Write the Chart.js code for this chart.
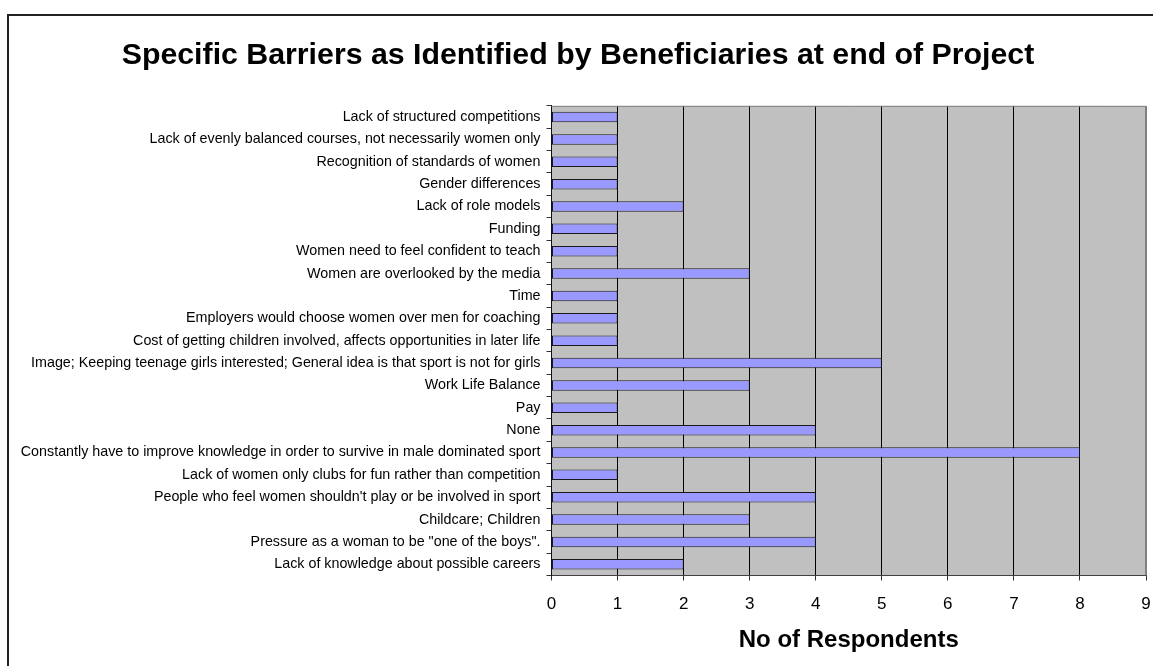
<!DOCTYPE html>
<html>
<head>
<meta charset="utf-8">
<script src="https://cdn.jsdelivr.net/npm/chart.js@4/dist/chart.umd.min.js"></script>
<style>
  html, body { margin: 0; padding: 0; background: #ffffff; }
  #wrap { width: 1153px; height: 666px; position: relative; }
</style>
</head>
<body>
<div id="wrap"><canvas id="c" width="1153" height="666"></canvas></div>
<script>
// Barriers, listed top to bottom as they appear on the chart
const barriers = [
  "Lack of structured competitions",
  "Lack of evenly balanced courses, not necessarily women only",
  "Recognition of standards of women",
  "Gender differences",
  "Lack of role models",
  "Funding",
  "Women need to feel confident to teach",
  "Women are overlooked by the media",
  "Time",
  "Employers would choose women over men for coaching",
  "Cost of getting children involved, affects opportunities in later life",
  "Image; Keeping teenage girls interested; General idea is that sport is not for girls",
  "Work Life Balance",
  "Pay",
  "None",
  "Constantly have to improve knowledge in order to survive in male dominated sport",
  "Lack of women only clubs for fun rather than competition",
  "People who feel women shouldn't play or be involved in sport",
  "Childcare; Children",
  "Pressure as a woman to be \"one of the boys\".",
  "Lack of knowledge about possible careers"
];

// Number of respondents naming each barrier
const respondents = [1, 1, 1, 1, 2, 1, 1, 3, 1, 1, 1, 5, 3, 1, 4, 8, 1, 4, 3, 4, 2];

// Value axis range and tick labels
const xTicks = [0, 1, 2, 3, 4, 5, 6, 7, 8, 9];

const chartTitle = "Specific Barriers as Identified by Beneficiaries at end of Project";
const xAxisTitle = "No of Respondents";

const FONT = "'Liberation Sans', Arial, sans-serif";

// Outer frame, grey plot background and plot border
const framePlugin = {
  id: 'frame',
  beforeDraw(chart) {
    const { ctx, chartArea: a } = chart;
    ctx.save();
    ctx.fillStyle = '#ffffff';
    ctx.fillRect(0, 0, chart.width, chart.height);
    ctx.strokeStyle = '#222222';
    ctx.lineWidth = 2;
    ctx.strokeRect(8, 15, chart.width + 20, chart.height + 20);
    ctx.fillStyle = '#C0C0C0';
    ctx.fillRect(a.left, a.top, a.right - a.left, a.bottom - a.top);
    ctx.restore();
  },
  afterDatasetsDraw(chart) {
    const { ctx, chartArea: a } = chart;
    ctx.save();
    ctx.strokeStyle = '#808080';
    ctx.lineWidth = 1;
    ctx.beginPath();
    ctx.moveTo(a.left, a.top + 0.5);
    ctx.lineTo(a.right - 0.5, a.top + 0.5);
    ctx.lineTo(a.right - 0.5, a.bottom);
    ctx.stroke();
    ctx.restore();
  }
};

new Chart(document.getElementById('c'), {
  type: 'bar',
  data: {
    labels: barriers,
    datasets: [{
      data: respondents,
      backgroundColor: '#9999FF',
      borderColor: '#1a1a1a',
      borderWidth: 1,
      borderSkipped: false,
      barPercentage: 0.47,
      categoryPercentage: 1.0
    }]
  },
  options: {
    indexAxis: 'y',
    responsive: false,
    animation: false,
    devicePixelRatio: 1,
    layout: { padding: { left: 10, right: 7, top: 0, bottom: 0 } },
    plugins: {
      legend: { display: false },
      tooltip: { enabled: false },
      title: {
        display: true,
        text: chartTitle,
        color: '#000000',
        font: { family: FONT, size: 30.3, weight: 'bold' },
        padding: { top: 37, bottom: 32.5 }
      }
    },
    scales: {
      x: {
        type: 'linear',
        min: xTicks[0],
        max: xTicks[xTicks.length - 1],
        afterBuildTicks(scale) {
          scale.ticks = xTicks.map(v => ({ value: v }));
        },
        afterFit(scale) {
          scale.height = 90.5;
          scale.paddingLeft = 0;
          scale.paddingRight = 0;
        },
        grid: {
          color: ctx => ctx.tick && ctx.tick.value === 9 ? '#808080' : '#000000',
          lineWidth: 1,
          drawTicks: true,
          tickLength: 5,
          tickColor: '#333333'
        },
        border: { display: true, color: '#404040', width: 1 },
        ticks: {
          color: '#000000',
          font: { family: FONT, size: 17 },
          padding: 14,
          maxRotation: 0
        },
        title: {
          display: true,
          text: xAxisTitle,
          color: '#000000',
          font: { family: FONT, size: 24, weight: 'bold' },
          padding: { top: 11, bottom: 11 }
        }
      },
      y: {
        type: 'category',
        afterFit(scale) { scale.width = 541.5; },
        grid: {
          offset: true,
          drawOnChartArea: false,
          drawTicks: true,
          tickLength: 5,
          color: '#333333'
        },
        border: { display: true, color: '#111111', width: 1 },
        ticks: {
          color: '#000000',
          font: { family: FONT, size: 14.3 },
          padding: 6,
          autoSkip: false
        }
      }
    }
  },
  plugins: [framePlugin]
});
</script>
</body>
</html>
